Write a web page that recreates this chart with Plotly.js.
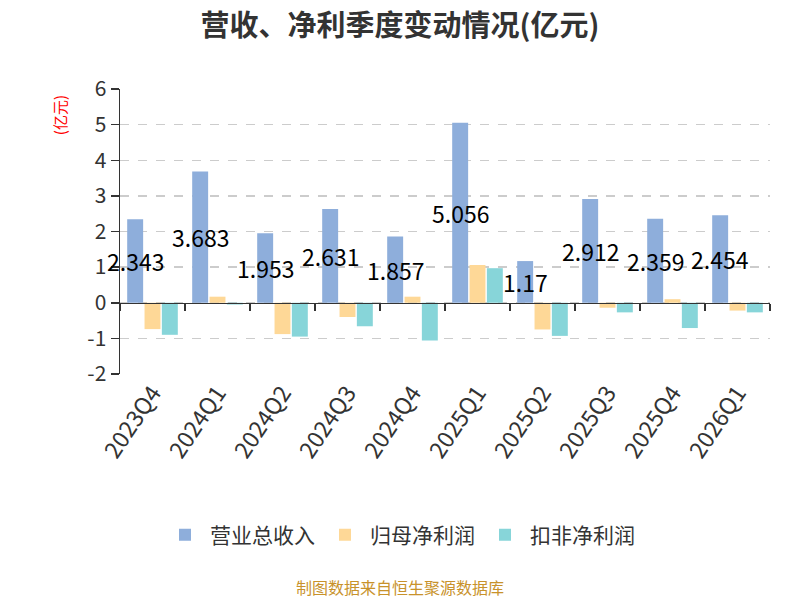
<!DOCTYPE html>
<html>
<head>
<meta charset="utf-8">
<script src="https://cdn.plot.ly/plotly-3.0.1.min.js"></script>
<style>
  html, body { margin: 0; padding: 0; background: #fff; }
  #chart { width: 800px; height: 600px; }
</style>
</head>
<body>
<div id="chart"></div>
<script>
// quarters and values (亿元)
var quarters = ['2023Q4', '2024Q1', '2024Q2', '2024Q3', '2024Q4', '2025Q1', '2025Q2', '2025Q3', '2025Q4', '2026Q1'];
var revenue = [2.343, 3.683, 1.953, 2.631, 1.857, 5.056, 1.17, 2.912, 2.359, 2.454];
var netProfit = [-0.74, 0.17, -0.88, -0.40, 0.17, 1.06, -0.75, -0.14, 0.10, -0.22];
var deductedProfit = [-0.90, -0.05, -0.95, -0.66, -1.06, 0.97, -0.93, -0.27, -0.71, -0.27];
var seriesNames = ['营业总收入', '归母净利润', '扣非净利润'];
var colors = ['#8eaedb', '#fed897', '#87d5d9'];
var yTicks = [-2, -1, 0, 1, 2, 3, 4, 5, 6];
var yTickText = ['-2', '-1', '0', '1', '2', '3', '4', '5', '6'];

var font = '"Noto Sans CJK SC", "Noto Sans", sans-serif';
var margin = {l: 120, r: 30, t: 89, b: 226};
var bargap = 0.2;

// width of one bar slot, to put the labels over the first bar of each group
var plotWidth = 800 - margin.l - margin.r;
var catWidth = plotWidth / quarters.length;
var slot = catWidth * (1 - bargap) / 3;
// page centre in paper units
var midX = (400 - margin.l) / plotWidth;

var data = [revenue, netProfit, deductedProfit].map(function (vals, i) {
  return {
    type: 'bar',
    name: seriesNames[i],
    x: quarters,
    y: vals,
    marker: {color: colors[i]},
    hoverinfo: 'x+y+name'
  };
});

// dummy trace so the axis at zero gets drawn
data.push({
  type: 'scatter', mode: 'markers', x: quarters, y: quarters.map(function () { return null; }),
  xaxis: 'x2', showlegend: false, hoverinfo: 'skip'
});

var labels = quarters.map(function (q, i) {
  return {
    x: q, y: revenue[i] / 2, xref: 'x', yref: 'y',
    text: String(revenue[i]), showarrow: false, xshift: -slot,
    font: {family: font, size: 23, color: '#000'}
  };
});

var layout = {
  width: 800,
  height: 600,
  margin: margin,
  paper_bgcolor: '#fff',
  plot_bgcolor: '#fff',
  font: {family: font, color: '#333'},
  title: {
    text: '<b>营收、净利季度变动情况(亿元)</b>',
    x: 0.5, xref: 'container', xanchor: 'center',
    y: 0.957, yref: 'container', yanchor: 'middle',
    font: {family: font, size: 29, color: '#333'}
  },
  barmode: 'group',
  bargap: bargap,
  bargroupgap: 0.08,
  showlegend: true,
  legend: {
    orientation: 'h', x: midX, xanchor: 'center',
    y: -0.565, yanchor: 'middle',
    font: {family: font, size: 21, color: '#333'}, itemwidth: 40
  },
  xaxis: {
    type: 'category', range: [-0.5, quarters.length - 0.5],
    showline: false, showgrid: false, zeroline: false,
    ticks: '', tickangle: -56,
    tickfont: {family: font, size: 23, color: '#333'}
  },
  xaxis2: {
    type: 'category', overlaying: 'x', matches: 'x',
    anchor: 'free', position: 0.25,
    showline: true, linecolor: '#333', linewidth: 1.5,
    showgrid: false, zeroline: false, showticklabels: false,
    ticks: 'outside', ticklen: 7, tickcolor: '#333', tickwidth: 1.5,
    tickson: 'boundaries'
  },
  yaxis: {
    range: [-2, 6], tickmode: 'array', tickvals: yTicks, ticktext: yTickText,
    showline: true, linecolor: '#333', linewidth: 1.5,
    ticks: 'outside', ticklen: 8, tickcolor: '#333', tickwidth: 1.5,
    showgrid: true, gridcolor: '#cccccc', griddash: 'dash', gridwidth: 1.5,
    zeroline: false,
    tickfont: {family: font, size: 21, color: '#333'}
  },
  annotations: labels.concat([
    {
      text: '(亿元)', xref: 'paper', yref: 'paper', x: -0.092, y: 0.909,
      xanchor: 'center', yanchor: 'middle',
      textangle: -90, showarrow: false,
      font: {family: font, size: 15, color: '#ff0000'}
    },
    {
      text: '制图数据来自恒生聚源数据库', xref: 'paper', yref: 'paper', x: midX, y: -0.748,
      xanchor: 'center', yanchor: 'middle', showarrow: false,
      font: {family: font, size: 16, color: '#c8922b'}
    }
  ])
};

Plotly.newPlot('chart', data, layout, {displayModeBar: false, staticPlot: true});
</script>
</body>
</html>
